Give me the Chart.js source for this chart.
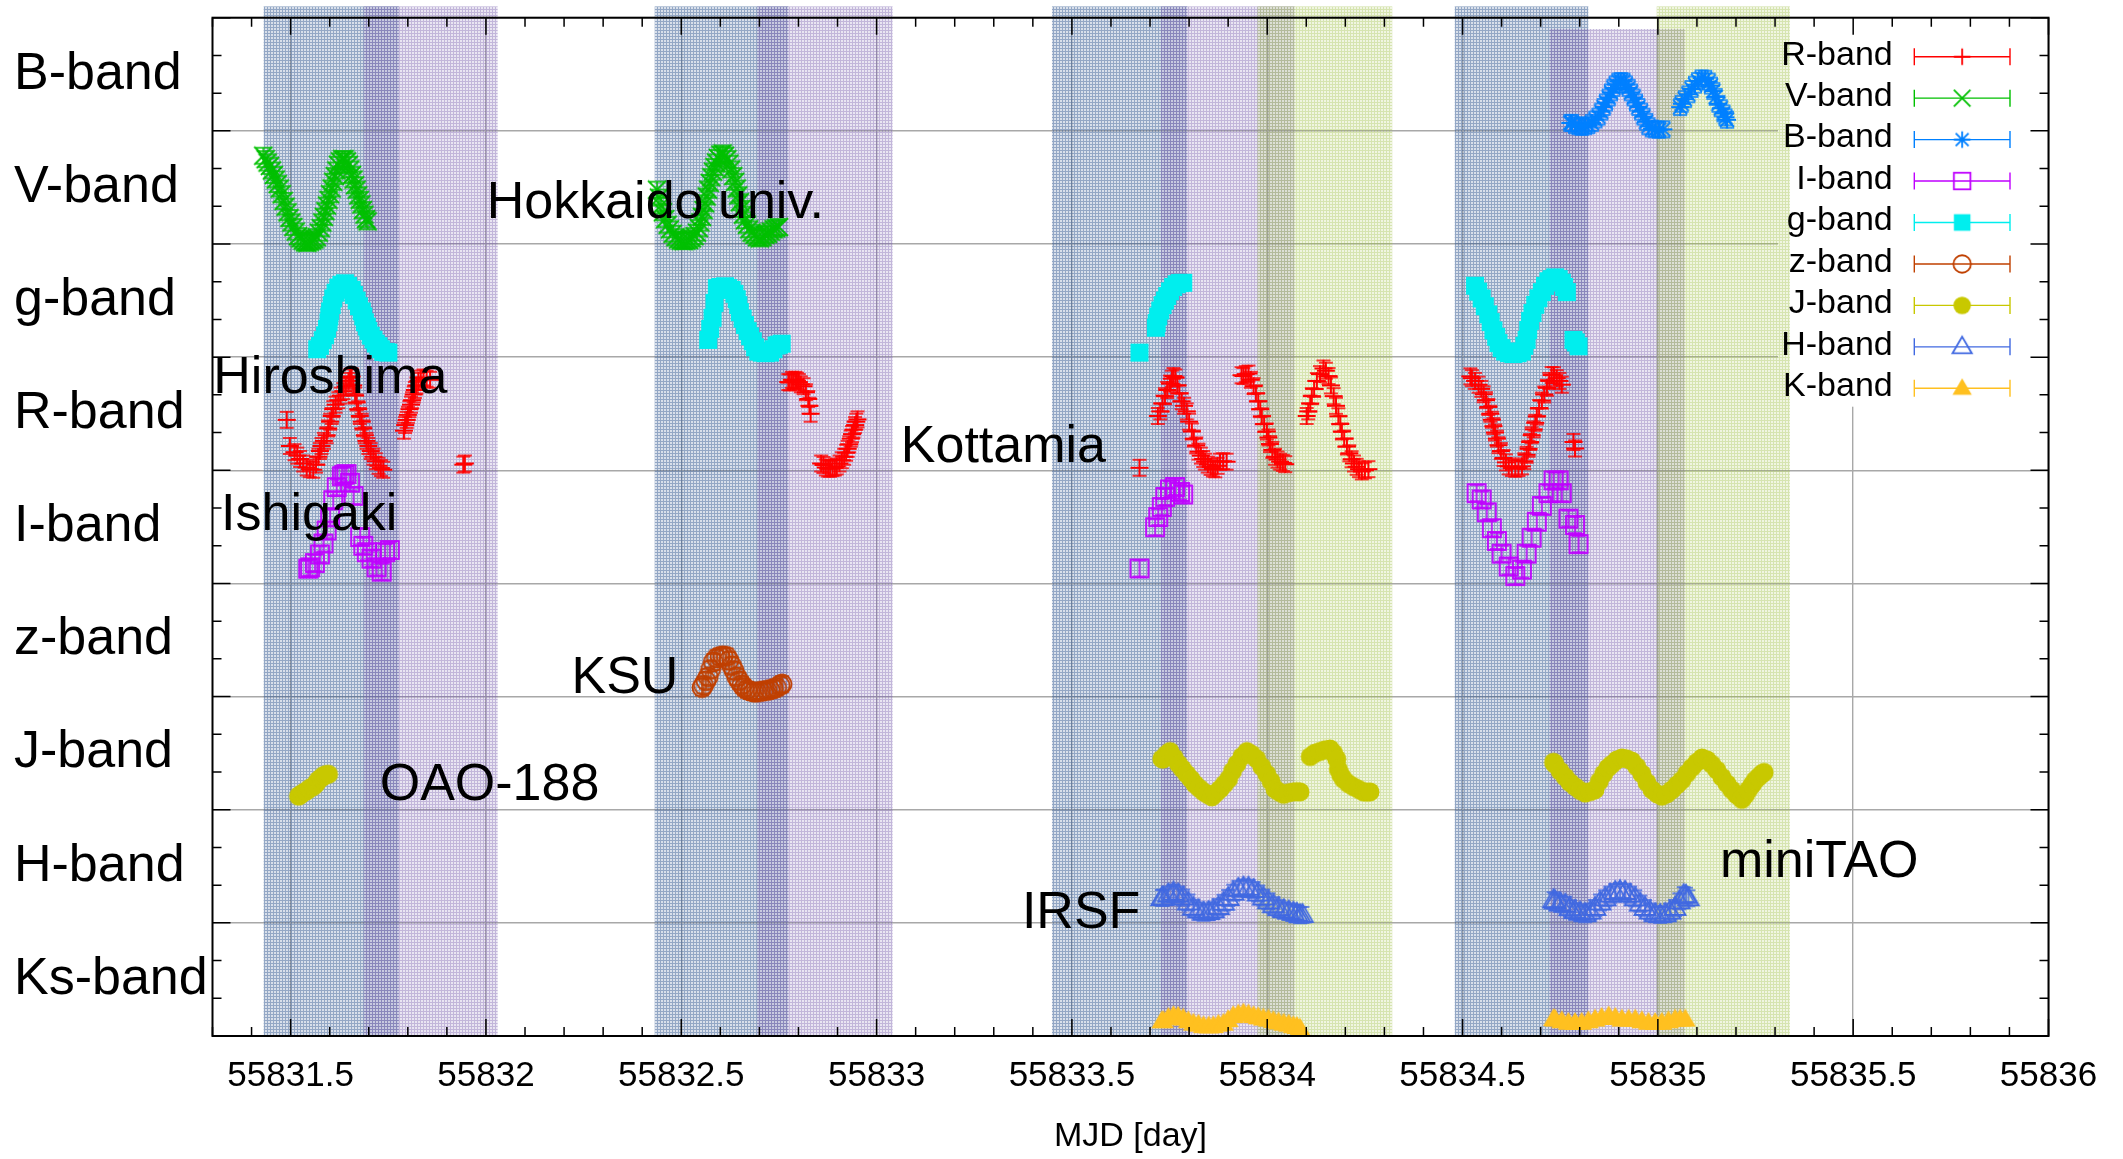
<!DOCTYPE html>
<html>
<head>
<meta charset="utf-8">
<title>Multi-band light curves</title>
<script src="https://cdn.jsdelivr.net/npm/chart.js@4.4.1/dist/chart.umd.min.js"></script>
<style>
  html, body { margin: 0; padding: 0; background: #ffffff; }
  canvas { display: block; }
</style>
</head>
<body>
<canvas id="lc" width="2123" height="1159" style="width:2123px;height:1159px"></canvas>
<script>
// ---- rows of the plot (top to bottom) and x-axis tick labels ----
const rowLabels = ['B-band', 'V-band', 'g-band', 'R-band', 'I-band', 'z-band', 'J-band', 'H-band', 'Ks-band'];
const xTickValues = [55831.5, 55832, 55832.5, 55833, 55833.5, 55834, 55834.5, 55835, 55835.5, 55836];
const xTickLabels = ['55831.5', '55832', '55832.5', '55833', '55833.5', '55834', '55834.5', '55835', '55835.5', '55836'];

// ---- observing windows [start MJD, end MJD] ----
const windowsBlue = [[55831.431, 55831.777], [55832.432, 55832.774], [55833.449, 55833.795], [55834.480, 55834.822]];
const windowsPurple = [[55831.687, 55832.030], [55832.694, 55833.041], [55833.728, 55834.070], [55834.723, 55835.069]];
const windowsGreen = [[55833.975, 55834.320], [55834.997, 55835.338]];
const purpleTopRow = [-0.1, -0.1, -0.1, 0.1];

// ---- light curves: [MJD, position in row units, 0 = top of B-band row] ----
const rBand = [
  [55831.490,3.554],[55831.498,3.785],[55831.510,3.84],[55831.517,3.87],[55831.524,3.90],[55831.532,3.94],
  [55831.541,3.975],[55831.549,3.99],[55831.558,3.995],[55831.565,3.95],[55831.571,3.88],[55831.575,3.83],
  [55831.579,3.785],[55831.585,3.74],[55831.592,3.69],[55831.596,3.63],[55831.601,3.57],[55831.605,3.52],
  [55831.609,3.46],[55831.615,3.42],[55831.622,3.38],[55831.628,3.34],[55831.635,3.30],[55831.641,3.26],
  [55831.648,3.21],[55831.652,3.18],[55831.656,3.17],[55831.660,3.25],[55831.665,3.34],[55831.669,3.40],
  [55831.673,3.46],[55831.677,3.52],[55831.682,3.57],[55831.686,3.63],[55831.690,3.69],[55831.694,3.74],
  [55831.699,3.785],[55831.705,3.83],[55831.712,3.88],[55831.718,3.92],[55831.725,3.96],[55831.731,3.98],
  [55831.737,3.995],
  [55831.790,3.65],[55831.793,3.60],[55831.797,3.555],[55831.800,3.51],[55831.804,3.46],[55831.808,3.42],
  [55831.811,3.38],[55831.815,3.33],[55831.818,3.29],[55831.822,3.25],[55831.827,3.21],[55831.833,3.19],
  [55831.840,3.18],[55831.848,3.19],[55831.857,3.20],[55831.942,3.95],[55831.946,3.94],
  [55832.774,3.22],[55832.778,3.224],[55832.783,3.20],[55832.787,3.21],[55832.792,3.20],[55832.796,3.208],
  [55832.801,3.22],[55832.806,3.24],[55832.813,3.257],[55832.819,3.31],[55832.825,3.37],[55832.828,3.43],
  [55832.831,3.50],[55832.858,3.94],[55832.864,3.953],[55832.870,3.975],[55832.876,3.985],[55832.881,3.986],
  [55832.887,3.98],[55832.893,3.975],[55832.898,3.966],[55832.905,3.94],[55832.911,3.911],[55832.917,3.88],
  [55832.922,3.845],[55832.926,3.81],[55832.930,3.77],[55832.934,3.72],[55832.937,3.68],[55832.941,3.64],
  [55832.945,3.60],[55832.948,3.57],[55832.951,3.55],
  [55833.673,3.978],
  [55833.720,3.52],[55833.726,3.479],[55833.732,3.41],[55833.738,3.345],[55833.744,3.29],[55833.751,3.234],
  [55833.756,3.19],[55833.760,3.167],[55833.765,3.18],[55833.770,3.25],[55833.775,3.32],[55833.781,3.39],
  [55833.787,3.43],[55833.794,3.479],[55833.800,3.57],[55833.807,3.657],[55833.812,3.72],[55833.818,3.78],
  [55833.824,3.835],[55833.830,3.87],[55833.836,3.90],[55833.841,3.924],[55833.848,3.95],[55833.855,3.97],
  [55833.861,3.985],[55833.867,3.991],[55833.873,3.96],[55833.879,3.924],[55833.887,3.92],[55833.896,3.924],
  [55833.934,3.16],[55833.939,3.167],[55833.945,3.15],[55833.952,3.145],[55833.958,3.20],[55833.965,3.256],
  [55833.971,3.32],[55833.977,3.39],[55833.982,3.46],[55833.986,3.523],[55833.992,3.59],[55833.999,3.657],
  [55834.003,3.71],[55834.007,3.768],[55834.013,3.82],[55834.020,3.88],[55834.026,3.905],[55834.033,3.924],
  [55834.040,3.935],[55834.046,3.946],
  [55834.101,3.52],[55834.105,3.479],[55834.110,3.41],[55834.114,3.345],[55834.120,3.28],[55834.127,3.211],
  [55834.135,3.15],[55834.144,3.10],[55834.150,3.12],[55834.157,3.167],[55834.163,3.25],[55834.170,3.345],
  [55834.176,3.43],[55834.182,3.523],[55834.187,3.59],[55834.191,3.657],[55834.197,3.72],[55834.204,3.79],
  [55834.210,3.85],[55834.216,3.902],[55834.222,3.94],[55834.229,3.969],[55834.235,3.99],[55834.242,4.01],
  [55834.250,4.00],[55834.259,3.99],
  [55834.520,3.17],[55834.524,3.186],[55834.532,3.21],[55834.541,3.243],[55834.548,3.28],[55834.554,3.328],
  [55834.560,3.38],[55834.566,3.44],[55834.571,3.50],[55834.575,3.553],[55834.579,3.61],[55834.583,3.666],
  [55834.588,3.72],[55834.592,3.778],[55834.598,3.83],[55834.605,3.891],[55834.611,3.93],[55834.618,3.965],
  [55834.626,3.98],[55834.635,3.987],[55834.643,3.98],[55834.652,3.965],[55834.658,3.92],[55834.664,3.863],
  [55834.669,3.81],[55834.673,3.75],[55834.677,3.69],[55834.682,3.638],[55834.686,3.58],[55834.690,3.525],
  [55834.696,3.45],[55834.703,3.384],[55834.709,3.33],[55834.716,3.271],[55834.722,3.21],[55834.728,3.158],
  [55834.734,3.16],[55834.741,3.186],[55834.748,3.21],[55834.754,3.243],[55834.784,3.75],[55834.788,3.807]
];
const vBand = [
  [55831.430,1.22],[55831.436,1.25],[55831.441,1.28],[55831.447,1.31],[55831.452,1.35],[55831.457,1.39],
  [55831.462,1.43],[55831.467,1.47],[55831.472,1.51],[55831.477,1.56],[55831.482,1.62],[55831.487,1.67],
  [55831.492,1.72],[55831.497,1.77],[55831.502,1.81],[55831.507,1.85],[55831.513,1.89],[55831.519,1.93],
  [55831.525,1.95],[55831.531,1.97],[55831.537,1.985],[55831.543,1.99],[55831.549,1.98],[55831.555,1.97],
  [55831.561,1.96],[55831.567,1.94],[55831.572,1.90],[55831.577,1.86],[55831.581,1.81],[55831.585,1.76],
  [55831.589,1.71],[55831.593,1.66],[55831.597,1.61],[55831.601,1.56],[55831.605,1.51],[55831.609,1.45],
  [55831.613,1.40],[55831.617,1.35],[55831.621,1.30],[55831.626,1.27],[55831.632,1.25],[55831.638,1.25],
  [55831.644,1.27],[55831.649,1.30],[55831.653,1.34],[55831.657,1.39],[55831.661,1.43],[55831.665,1.48],
  [55831.669,1.52],[55831.673,1.57],[55831.677,1.61],[55831.681,1.65],[55831.685,1.70],[55831.689,1.74],
  [55831.693,1.78],[55831.697,1.80],
  [55832.438,1.52],[55832.443,1.59],[55832.448,1.66],[55832.453,1.72],[55832.459,1.78],[55832.465,1.83],
  [55832.471,1.87],[55832.478,1.91],[55832.485,1.94],[55832.492,1.96],[55832.499,1.97],[55832.506,1.975],
  [55832.513,1.97],[55832.520,1.965],[55832.527,1.95],[55832.534,1.93],[55832.540,1.90],[55832.545,1.86],
  [55832.549,1.81],[55832.553,1.76],[55832.557,1.70],[55832.561,1.64],[55832.565,1.58],[55832.569,1.52],
  [55832.573,1.46],[55832.577,1.41],[55832.581,1.36],[55832.585,1.32],[55832.589,1.28],[55832.594,1.24],
  [55832.600,1.21],[55832.606,1.20],[55832.612,1.22],[55832.618,1.25],[55832.623,1.29],[55832.628,1.34],
  [55832.633,1.40],[55832.638,1.45],[55832.642,1.51],[55832.646,1.57],[55832.650,1.63],[55832.654,1.69],
  [55832.658,1.74],[55832.663,1.79],[55832.668,1.83],[55832.674,1.87],[55832.680,1.90],[55832.687,1.92],
  [55832.694,1.94],[55832.701,1.95],[55832.708,1.94],[55832.715,1.92],[55832.722,1.91],[55832.729,1.89],
  [55832.736,1.87],[55832.743,1.86],[55832.750,1.85]
];
const bBand = [
  [55834.776,0.93],[55834.780,0.930],[55834.788,0.95],[55834.797,0.959],[55834.805,0.965],[55834.814,0.959],
  [55834.822,0.95],[55834.831,0.930],[55834.840,0.90],[55834.848,0.874],[55834.855,0.83],[55834.861,0.789],
  [55834.867,0.75],[55834.874,0.705],[55834.880,0.66],[55834.886,0.620],[55834.892,0.59],[55834.899,0.564],
  [55834.905,0.56],[55834.912,0.564],[55834.918,0.59],[55834.925,0.620],[55834.931,0.66],[55834.938,0.705],
  [55834.944,0.75],[55834.950,0.789],[55834.957,0.83],[55834.963,0.874],[55834.970,0.92],[55834.976,0.959],
  [55834.985,0.98],[55834.993,0.987],[55835.003,0.99],[55835.014,0.987],
  [55835.057,0.79],[55835.061,0.761],[55835.069,0.72],[55835.078,0.677],[55835.086,0.63],[55835.095,0.592],
  [55835.103,0.56],[55835.112,0.536],[55835.121,0.54],[55835.130,0.564],[55835.136,0.60],[55835.142,0.648],
  [55835.148,0.70],[55835.155,0.761],[55835.161,0.80],[55835.168,0.846],[55835.173,0.88],[55835.177,0.902]
];
const iBand = [
  [55831.545,4.87],[55831.550,4.858],[55831.562,4.820],[55831.575,4.743],[55831.584,4.647],[55831.592,4.532],
  [55831.601,4.417],[55831.609,4.264],[55831.618,4.149],[55831.631,4.053],[55831.637,4.04],[55831.643,4.034],
  [55831.652,4.110],[55831.661,4.226],[55831.678,4.590],[55831.686,4.667],[55831.695,4.724],[55831.707,4.781],
  [55831.720,4.858],[55831.733,4.896],[55831.742,4.724],[55831.754,4.705],
  [55833.673,4.868],[55833.713,4.503],[55833.721,4.414],[55833.730,4.325],[55833.739,4.236],[55833.751,4.169],
  [55833.764,4.147],[55833.777,4.191],[55833.785,4.214],
  [55834.536,4.202],[55834.549,4.258],[55834.562,4.371],[55834.575,4.512],[55834.588,4.625],[55834.600,4.737],
  [55834.618,4.850],[55834.635,4.935],[55834.652,4.878],[55834.664,4.737],[55834.677,4.596],[55834.690,4.455],
  [55834.703,4.315],[55834.720,4.202],[55834.733,4.089],[55834.746,4.089],[55834.754,4.202],[55834.771,4.427],
  [55834.788,4.484],[55834.797,4.653]
];
const gBand = [
  [55831.568,2.93],[55831.575,2.90],[55831.582,2.85],[55831.588,2.807],[55831.593,2.75],[55831.597,2.692],
  [55831.599,2.64],[55831.601,2.596],[55831.605,2.54],[55831.609,2.481],[55831.615,2.43],[55831.622,2.385],
  [55831.630,2.36],[55831.639,2.347],[55831.647,2.37],[55831.656,2.404],[55831.662,2.45],[55831.669,2.500],
  [55831.675,2.55],[55831.682,2.596],[55831.686,2.64],[55831.690,2.692],[55831.695,2.73],[55831.699,2.768],
  [55831.705,2.81],[55831.712,2.845],[55831.718,2.88],[55831.725,2.903],[55831.731,2.93],[55831.737,2.953],
  [55831.744,2.955],[55831.750,2.960],
  [55832.569,2.848],[55832.574,2.75],[55832.580,2.652],[55832.585,2.52],[55832.591,2.390],[55832.600,2.38],
  [55832.612,2.373],[55832.620,2.39],[55832.629,2.406],[55832.636,2.44],[55832.642,2.488],[55832.646,2.54],
  [55832.650,2.602],[55832.657,2.66],[55832.663,2.717],[55832.670,2.77],[55832.676,2.815],[55832.683,2.86],
  [55832.689,2.913],[55832.697,2.95],[55832.706,2.960],[55832.716,2.965],[55832.727,2.960],[55832.736,2.93],
  [55832.744,2.897],[55832.750,2.89],[55832.757,2.881],
  [55833.673,2.960],[55833.715,2.74],[55833.717,2.699],[55833.721,2.64],[55833.726,2.588],[55833.732,2.54],
  [55833.738,2.499],[55833.744,2.46],[55833.751,2.418],[55833.759,2.38],[55833.768,2.356],[55833.776,2.345],
  [55833.785,2.343],
  [55834.532,2.369],[55834.540,2.42],[55834.549,2.481],[55834.557,2.55],[55834.566,2.622],[55834.572,2.69],
  [55834.579,2.763],[55834.586,2.82],[55834.592,2.876],[55834.600,2.92],[55834.609,2.950],[55834.619,2.965],
  [55834.630,2.972],[55834.641,2.965],[55834.652,2.950],[55834.658,2.90],[55834.664,2.848],[55834.668,2.76],
  [55834.673,2.679],[55834.679,2.61],[55834.686,2.538],[55834.694,2.48],[55834.703,2.425],[55834.711,2.37],
  [55834.720,2.329],[55834.728,2.31],[55834.737,2.295],[55834.746,2.31],[55834.754,2.341],[55834.760,2.38],
  [55834.767,2.425],[55834.784,2.848],[55834.790,2.87],[55834.797,2.904]
];
const zBand = [
  [55832.553,5.92],[55832.557,5.900],[55832.563,5.86],[55832.569,5.825],[55832.575,5.76],[55832.582,5.694],
  [55832.590,5.66],[55832.599,5.645],[55832.607,5.64],[55832.616,5.645],[55832.622,5.68],[55832.629,5.726],
  [55832.635,5.77],[55832.642,5.825],[55832.648,5.86],[55832.655,5.896],[55832.661,5.92],[55832.668,5.940],
  [55832.676,5.95],[55832.685,5.960],[55832.693,5.96],[55832.702,5.955],[55832.710,5.95],[55832.719,5.945],
  [55832.727,5.94],[55832.736,5.930],[55832.744,5.92],[55832.753,5.900],[55832.758,5.89]
];
const jBand = [
  [55831.520,6.88],[55831.524,6.871],[55831.532,6.85],[55831.541,6.833],[55831.549,6.81],[55831.558,6.795],
  [55831.565,6.77],[55831.571,6.737],[55831.578,6.72],[55831.584,6.699],[55831.590,6.69],[55831.597,6.687],
  [55833.730,6.55],[55833.734,6.552],[55833.742,6.51],[55833.751,6.485],[55833.762,6.54],[55833.773,6.597],
  [55833.783,6.64],[55833.794,6.686],[55833.805,6.73],[55833.815,6.775],[55833.826,6.81],[55833.837,6.842],
  [55833.847,6.865],[55833.858,6.886],[55833.868,6.855],[55833.879,6.819],[55833.890,6.775],[55833.901,6.730],
  [55833.911,6.66],[55833.922,6.597],[55833.935,6.53],[55833.948,6.485],[55833.960,6.51],[55833.973,6.552],
  [55833.986,6.62],[55833.999,6.686],[55834.010,6.75],[55834.020,6.819],[55834.031,6.845],[55834.042,6.864],
  [55834.055,6.85],[55834.067,6.842],[55834.076,6.84],[55834.084,6.842],
  [55834.110,6.530],[55834.122,6.50],[55834.135,6.485],[55834.148,6.47],[55834.161,6.463],[55834.170,6.50],
  [55834.178,6.552],[55834.182,6.641],[55834.188,6.69],[55834.195,6.730],[55834.208,6.77],[55834.221,6.797],
  [55834.234,6.82],[55834.246,6.842],[55834.255,6.845],[55834.263,6.842],
  [55834.733,6.58],[55834.737,6.599],[55834.750,6.66],[55834.763,6.712],[55834.775,6.76],[55834.788,6.796],
  [55834.801,6.83],[55834.814,6.853],[55834.827,6.84],[55834.839,6.824],[55834.850,6.75],[55834.861,6.683],
  [55834.872,6.63],[55834.882,6.599],[55834.895,6.56],[55834.908,6.542],[55834.920,6.55],[55834.933,6.570],
  [55834.946,6.62],[55834.959,6.683],[55834.972,6.76],[55834.985,6.824],[55834.998,6.86],[55835.010,6.881],
  [55835.023,6.86],[55835.036,6.824],[55835.049,6.78],[55835.061,6.740],[55835.074,6.68],[55835.087,6.627],
  [55835.100,6.58],[55835.113,6.542],[55835.126,6.56],[55835.138,6.599],[55835.151,6.65],[55835.164,6.712],
  [55835.177,6.77],[55835.189,6.824],[55835.202,6.87],[55835.215,6.909],[55835.224,6.87],[55835.232,6.824],
  [55835.241,6.78],[55835.249,6.740],[55835.258,6.71],[55835.266,6.683],[55835.272,6.67]
];
const hBand = [
  [55833.730,7.78],[55833.734,7.777],[55833.747,7.75],[55833.760,7.733],[55833.772,7.75],[55833.785,7.777],
  [55833.798,7.82],[55833.811,7.866],[55833.824,7.89],[55833.837,7.911],[55833.850,7.905],[55833.862,7.889],
  [55833.875,7.86],[55833.888,7.822],[55833.900,7.78],[55833.913,7.733],[55833.926,7.70],[55833.939,7.688],
  [55833.952,7.69],[55833.965,7.710],[55833.977,7.74],[55833.990,7.777],[55834.003,7.81],[55834.016,7.844],
  [55834.029,7.87],[55834.042,7.889],[55834.055,7.90],[55834.067,7.911],[55834.076,7.92],[55834.084,7.933],
  [55834.090,7.93],
  [55834.733,7.80],[55834.737,7.811],[55834.750,7.83],[55834.763,7.839],[55834.775,7.87],[55834.788,7.896],
  [55834.801,7.91],[55834.814,7.924],[55834.827,7.90],[55834.839,7.868],[55834.852,7.82],[55834.865,7.783],
  [55834.878,7.75],[55834.891,7.727],[55834.903,7.72],[55834.916,7.727],[55834.929,7.75],[55834.942,7.783],
  [55834.955,7.83],[55834.967,7.868],[55834.980,7.90],[55834.993,7.924],[55835.006,7.93],[55835.019,7.924],
  [55835.031,7.90],[55835.044,7.868],[55835.055,7.81],[55835.066,7.755],[55835.072,7.76],[55835.078,7.783]
];
const kBand = [
  [55833.730,8.87],[55833.734,8.868],[55833.747,8.84],[55833.760,8.824],[55833.772,8.83],[55833.785,8.846],
  [55833.798,8.87],[55833.811,8.891],[55833.824,8.90],[55833.837,8.913],[55833.850,8.915],[55833.862,8.913],
  [55833.875,8.90],[55833.888,8.891],[55833.900,8.86],[55833.913,8.824],[55833.926,8.81],[55833.939,8.801],
  [55833.952,8.81],[55833.965,8.824],[55833.977,8.835],[55833.990,8.846],[55834.003,8.855],[55834.016,8.868],
  [55834.029,8.88],[55834.042,8.891],[55834.055,8.90],[55834.067,8.913],[55834.076,8.92],[55834.084,8.935],
  [55834.733,8.85],[55834.737,8.855],[55834.754,8.87],[55834.771,8.883],[55834.788,8.885],[55834.805,8.883],
  [55834.822,8.87],[55834.839,8.855],[55834.856,8.84],[55834.874,8.827],[55834.891,8.84],[55834.908,8.855],
  [55834.925,8.855],[55834.942,8.855],[55834.959,8.87],[55834.976,8.883],[55834.993,8.885],[55835.010,8.883],
  [55835.027,8.87],[55835.044,8.855],[55835.057,8.855],[55835.070,8.855]
];

// ---- site names written inside the plot: [text, MJD, row position of baseline] ----
const siteNames = [
  ['Hiroshima', 55831.302, 3.318],
  ['Hokkaido univ.', 55832.002, 1.771],
  ['Ishigaki', 55831.322, 4.530],
  ['KSU', 55832.219, 5.971],
  ['OAO-188', 55831.728, 6.917],
  ['Kottamia', 55833.062, 3.926],
  ['IRSF', 55833.372, 8.049],
  ['miniTAO', 55835.159, 7.598]
];

const FONT = '"Liberation Sans", Arial, Helvetica, sans-serif';

// gnuplot-like symbols, optionally with a small vertical error bar
function marker(shape, color, filled, bar, scale) {
  const k = scale || 1;
  const S = 48, m = S / 2;
  const c = document.createElement('canvas');
  c.width = S; c.height = S;
  const g = c.getContext('2d');
  g.strokeStyle = color; g.fillStyle = color; g.lineWidth = 1.8;
  g.beginPath();
  if (shape === 'plus') {
    const r = 9 * k;
    g.moveTo(m - r, m); g.lineTo(m + r, m); g.moveTo(m, m - r); g.lineTo(m, m + r); g.stroke();
  } else if (shape === 'cross') {
    const r = 9 * k;
    g.moveTo(m - r, m - r); g.lineTo(m + r, m + r); g.moveTo(m - r, m + r); g.lineTo(m + r, m - r); g.stroke();
  } else if (shape === 'star') {
    const r = 9 * k, d = 7 * k;
    g.moveTo(m - r, m); g.lineTo(m + r, m); g.moveTo(m, m - r); g.lineTo(m, m + r);
    g.moveTo(m - d, m - d); g.lineTo(m + d, m + d); g.moveTo(m - d, m + d); g.lineTo(m + d, m - d); g.stroke();
  } else if (shape === 'square') {
    const h = 9 * k;
    if (filled) g.fillRect(m - h, m - h, 2 * h, 2 * h); else g.strokeRect(m - h, m - h, 2 * h, 2 * h);
  } else if (shape === 'circle') {
    g.arc(m, m, 9.5 * k, 0, Math.PI * 2);
    if (filled) g.fill(); else g.stroke();
  } else if (shape === 'triangle') {
    const w = 10.5 * k;
    g.moveTo(m, m - 11 * k); g.lineTo(m + w, m + 7 * k); g.lineTo(m - w, m + 7 * k); g.closePath();
    if (filled) g.fill(); else g.stroke();
  }
  if (bar) {
    g.beginPath();
    g.lineWidth = 1.5;
    g.moveTo(m, m - 8); g.lineTo(m, m + 8);
    g.moveTo(m - 7, m - 8); g.lineTo(m + 7, m - 8);
    g.moveTo(m - 7, m + 8); g.lineTo(m + 7, m + 8);
    g.stroke();
  }
  return c;
}

const series = [
  { name: 'R-band', data: rBand, color: '#ff0000', shape: 'plus', filled: false },
  { name: 'V-band', data: vBand, color: '#00c000', shape: 'cross', filled: false },
  { name: 'B-band', data: bBand, color: '#0080ff', shape: 'star', filled: false },
  { name: 'I-band', data: iBand, color: '#c000ff', shape: 'square', filled: false },
  { name: 'g-band', data: gBand, color: '#00eeee', shape: 'square', filled: true },
  { name: 'z-band', data: zBand, color: '#c04000', shape: 'circle', filled: false },
  { name: 'J-band', data: jBand, color: '#c8c800', shape: 'circle', filled: true },
  { name: 'H-band', data: hBand, color: '#4169e1', shape: 'triangle', filled: false },
  { name: 'K-band', data: kBand, color: '#ffc020', shape: 'triangle', filled: true }
];
series.forEach(s => {
  s.plotMarker = marker(s.shape, s.color, s.filled, !s.filled, 1);
  s.keyMarker = marker(s.shape, s.color, s.filled, false, 0.92);
});

// fine mesh fill for the observing windows
function mesh(ctx, rgb, baseA, lineA) {
  const t = document.createElement('canvas');
  t.width = 3; t.height = 3;
  const g = t.getContext('2d');
  g.fillStyle = 'rgba(' + rgb + ',' + baseA + ')';
  g.fillRect(0, 0, 3, 3);
  g.fillStyle = 'rgba(' + rgb + ',' + lineA + ')';
  g.fillRect(0, 0, 3, 1);
  g.fillRect(0, 1, 1, 2);
  return ctx.createPattern(t, 'repeat');
}

const windowsPlugin = {
  id: 'windows',
  beforeDatasetsDraw(chart) {
    const { ctx, chartArea: a, scales: { x, y } } = chart;
    ctx.save();
    // white backing behind the key
    ctx.fillStyle = '#ffffff';
    ctx.fillRect(a.right - 270.5, a.top, 270.5, 389);
    const fills = [
      [windowsBlue, mesh(ctx, '60,95,150', 0.2, 0.44), windowsBlue.map(() => -0.1)],
      [windowsPurple, mesh(ctx, '125,100,175', 0.17, 0.36), purpleTopRow],
      [windowsGreen, mesh(ctx, '160,190,70', 0.16, 0.32), windowsGreen.map(() => -0.1)]
    ];
    fills.forEach(([spans, pattern, tops]) => {
      ctx.fillStyle = pattern;
      spans.forEach((s, i) => {
        const x0 = x.getPixelForValue(s[0]);
        const x1 = x.getPixelForValue(s[1]);
        const y0 = y.getPixelForValue(tops[i]);
        const y1 = y.getPixelForValue(9);
        ctx.fillRect(x0, y0, x1 - x0, y1 - y0);
      });
    });
    ctx.restore();
  }
};

const overlayPlugin = {
  id: 'overlay',
  afterDatasetsDraw(chart) {
    const { ctx, chartArea: a, scales: { x, y } } = chart;
    ctx.save();
    // site names
    ctx.fillStyle = '#000';
    ctx.font = '52px ' + FONT;
    ctx.textAlign = 'left';
    ctx.textBaseline = 'alphabetic';
    siteNames.forEach(([t, mjd, row]) => ctx.fillText(t, x.getPixelForValue(mjd), y.getPixelForValue(row)));

    // key
    ctx.font = '34px ' + FONT;
    ctx.textAlign = 'right';
    ctx.textBaseline = 'middle';
    series.forEach((s, i) => {
      const ly = a.top + 39 + 41.45 * i;
      ctx.fillStyle = '#000';
      ctx.fillText(s.name, a.right - 155.8, ly - 1.5);
      const l0 = a.right - 134.2, l1 = a.right - 38.5;
      ctx.strokeStyle = s.color;
      ctx.lineWidth = 1.4;
      ctx.beginPath();
      ctx.moveTo(l0, ly); ctx.lineTo(l1, ly);
      ctx.moveTo(l0, ly - 8.5); ctx.lineTo(l0, ly + 8.5);
      ctx.moveTo(l1, ly - 8.5); ctx.lineTo(l1, ly + 8.5);
      ctx.stroke();
      const mk = s.keyMarker;
      ctx.drawImage(mk, (l0 + l1) / 2 - mk.width / 2, ly - mk.height / 2);
    });
    ctx.restore();
  },
  afterDraw(chart) {
    const { ctx, chartArea: a, scales: { x, y } } = chart;
    ctx.save();
    ctx.strokeStyle = '#000';
    // inward tick marks on all four sides
    ctx.lineWidth = 1.5;
    ctx.beginPath();
    for (let i = 0; i <= 47; i++) {
      const v = 55831.3 + i * 0.1;
      const major = Math.abs(v * 2 - Math.round(v * 2)) < 1e-6;
      const len = major ? 17 : 9;
      const px = x.getPixelForValue(v);
      ctx.moveTo(px, a.bottom); ctx.lineTo(px, a.bottom - len);
      ctx.moveTo(px, a.top); ctx.lineTo(px, a.top + len);
    }
    for (let j = 0; j <= 27; j++) {
      const py = y.getPixelForValue(j / 3);
      const len = j % 3 === 0 ? 18 : 9;
      ctx.moveTo(a.left, py); ctx.lineTo(a.left + len, py);
      ctx.moveTo(a.right, py); ctx.lineTo(a.right - len, py);
    }
    ctx.stroke();
    // frame
    ctx.lineWidth = 2;
    ctx.strokeRect(a.left, a.top, a.right - a.left, a.bottom - a.top);
    ctx.restore();
  }
};

const gridStyle = { color: '#a8a8a8', lineWidth: 1.4, drawTicks: false };
const noOverhang = s => { s.paddingTop = 0; s.paddingBottom = 0; s.paddingLeft = 0; s.paddingRight = 0; };

new Chart(document.getElementById('lc'), {
  type: 'scatter',
  data: {
    datasets: series.map(s => ({
      label: s.name,
      data: s.data.map(p => ({ x: p[0], y: p[1] })),
      pointStyle: s.plotMarker,
      pointRadius: 10,
      pointHoverRadius: 10,
      showLine: false,
      clip: false
    }))
  },
  options: {
    responsive: false,
    animation: false,
    devicePixelRatio: 1,
    events: [],
    layout: { padding: { left: 14, right: 74.5, top: 17.7, bottom: 0 } },
    plugins: { legend: { display: false }, tooltip: { enabled: false } },
    scales: {
      x: {
        type: 'linear',
        position: 'bottom',
        min: 55831.3,
        max: 55836,
        afterBuildTicks: s => { s.ticks = xTickValues.map(v => ({ value: v })); },
        afterFit: s => { s.height = 123; noOverhang(s); },
        ticks: {
          callback: (v, i) => xTickLabels[i],
          font: { family: FONT, size: 35 },
          color: '#000',
          padding: 19,
          maxRotation: 0,
          autoSkip: false
        },
        grid: gridStyle,
        border: { display: false },
        title: {
          display: true,
          text: 'MJD [day]',
          font: { family: FONT, size: 34 },
          color: '#000',
          padding: { top: 0, bottom: 2 }
        }
      },
      y: {
        type: 'linear',
        position: 'left',
        min: 0,
        max: 9,
        reverse: true,
        afterBuildTicks: s => { s.ticks = rowLabels.map((_, i) => ({ value: i })).concat([{ value: 9 }]); },
        afterFit: s => { s.width = 0; noOverhang(s); },
        ticks: { display: false },
        grid: gridStyle,
        border: { display: false }
      },
      rows: {
        type: 'linear',
        position: 'left',
        min: 0,
        max: 9,
        reverse: true,
        afterBuildTicks: s => { s.ticks = rowLabels.map((_, i) => ({ value: i + 0.5 })); },
        afterFit: s => { s.width = 198.5; noOverhang(s); },
        ticks: {
          callback: (v, i) => rowLabels[i],
          font: { family: FONT, size: 52 },
          color: '#000',
          crossAlign: 'far',
          padding: 0,
          autoSkip: false
        },
        grid: { display: false, drawTicks: false },
        border: { display: false }
      }
    }
  },
  plugins: [windowsPlugin, overlayPlugin]
});
</script>
</body>
</html>
